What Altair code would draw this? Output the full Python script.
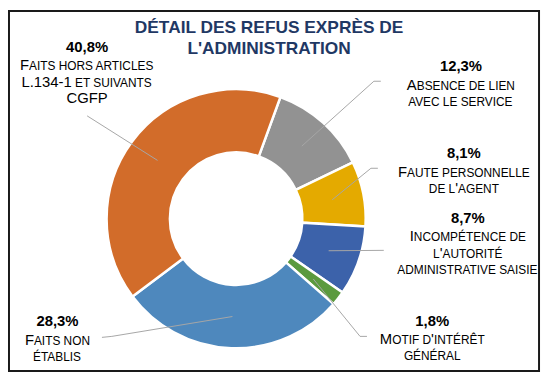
import math
import altair as alt
import pandas as pd

# ---------------- data ----------------
categories = [
    "Absence de lien avec le service",
    "Faute personnelle de l'agent",
    "Incompétence de l'autorité administrative saisie",
    "Motif d'intérêt général",
    "Faits non établis",
    "Faits hors articles L.134-1 et suivants CGFP",
]
values = [12.3, 8.1, 8.7, 1.8, 28.3, 40.8]
pct_labels = ["12,3%", "8,1%", "8,7%", "1,8%", "28,3%", "40,8%"]
label_lines = [
    ["Absence de lien", "avec le service"],
    ["Faute personnelle", "de l'agent"],
    ["Incompétence de", "l'autorité", "administrative saisie"],
    ["Motif d'intérêt", "général"],
    ["Faits non", "établis"],
    ["Faits hors articles", "L.134-1 et suivants", "CGFP"],
]
title_lines = ["DÉTAIL DES REFUS EXPRÈS DE", "L'ADMINISTRATION"]

# ---------------- styles / layout ----------------
colors = ["#929292", "#E4AA00", "#3C62AA", "#5B9A3E", "#4E88BD", "#D26C2A"]
TITLE_COLOR = "#1F3864"
LEAD_COLOR = "#A6A6A6"
FONT = "Liberation Sans"
OFF = 8  # page margin
CX, CY = 238.7 - OFF, 219 - OFF
R_OUT, R_IN, R_LEAD = 131, 67, 99
START_DEG = 20
BIG, SMALL, PCT_SIZE, TITLE_SIZE = 15, 12, 15, 17.5
LINE_GAP = 17
FIRST_GAP = 18
# label anchor (centre x, percentage-line centre y), page coords
label_pos = [(466, 65), (469, 153), (473, 218), (437, 322), (58, 323), (88, 45)]
# leader-line outer points (page coords), from label toward slice
leader_ends = [
    [(385, 80), (378, 80)],
    [(382, 168), (375, 168)],
    [(388, 251)],
    [(371, 338), (364, 338)],
    [(103, 339), (113, 338)],
    [(88, 115)],
]
title_pos = [(272, 26), (272, 47)]

# Arial / Liberation Sans advance widths (per 1000 em)
W = {
    "A": 667, "B": 667, "C": 722, "D": 722, "E": 667, "F": 611, "G": 778, "H": 722,
    "I": 278, "J": 500, "K": 667, "L": 556, "M": 833, "N": 722, "O": 778, "P": 667,
    "Q": 778, "R": 722, "S": 667, "T": 611, "U": 722, "V": 667, "W": 944, "X": 667,
    "Y": 667, "Z": 611, " ": 278, "'": 191, ".": 278, "-": 333, "É": 667, "È": 667,
    "Ê": 667, "À": 667,
}
for d in "0123456789":
    W[d] = 556

# ---------------- arcs ----------------
df = pd.DataFrame({"cat": categories, "value": values, "ord": list(range(len(values)))})
start = math.radians(START_DEG)
arc = alt.Chart(df).mark_arc(
    innerRadius=R_IN, outerRadius=R_OUT, stroke="white", strokeWidth=2.5
).encode(
    theta=alt.Theta("value:Q", stack=True, scale=alt.Scale(range=[start, start + 2 * math.pi])),
    color=alt.Color("cat:N", scale=alt.Scale(domain=categories, range=colors), legend=None),
    order=alt.Order("ord:Q"),
    x=alt.value(CX),
    y=alt.value(CY),
)

# ---------------- leader lines ----------------
total = sum(values)
rows = []
cum = 0.0
for i, v in enumerate(values):
    mid = start + 2 * math.pi * (cum + v / 2) / total
    cum += v
    pts = [(px - OFF, py - OFF) for px, py in leader_ends[i]]
    pts.append((CX + R_LEAD * math.sin(mid), CY - R_LEAD * math.cos(mid)))
    for k, (x, y) in enumerate(pts):
        rows.append({"cat": categories[i], "k": k, "x": x, "y": y})
lines = alt.Chart(pd.DataFrame(rows)).mark_line(color=LEAD_COLOR, strokeWidth=1).encode(
    x=alt.X("x:Q", scale=None, axis=None),
    y=alt.Y("y:Q", scale=None, axis=None),
    detail="cat:N",
    order="k:Q",
)

# ---------------- percentage labels ----------------
pct_df = pd.DataFrame({
    "x": [p[0] - OFF for p in label_pos],
    "y": [p[1] - OFF for p in label_pos],
    "t": pct_labels,
})
pct = alt.Chart(pct_df).mark_text(
    font=FONT, fontWeight="bold", fontSize=PCT_SIZE, align="center", baseline="middle", color="#000000"
).encode(x=alt.X("x:Q", scale=None, axis=None), y=alt.Y("y:Q", scale=None, axis=None), text="t:N")

# ---------------- small-caps category labels ----------------
def runs_for(text):
    out = []
    for ch in text:
        size = SMALL if (ch.islower() or ch == " ") else BIG
        c = ch.upper()
        if out and out[-1][1] == size:
            out[-1][0] += c
        else:
            out.append([c, size])
    return out

def width(t, s):
    return sum(W.get(c, 600) for c in t) * s / 1000

run_rows = []
for i, lines_i in enumerate(label_lines):
    cx, y0 = label_pos[i]
    for j, line in enumerate(lines_i):
        yc = y0 + FIRST_GAP + j * LINE_GAP
        runs = runs_for(line)
        widths = [width(t, s) for t, s in runs]
        x = cx - sum(widths) / 2
        for (t, s), w in zip(runs, widths):
            lead = len(t) - len(t.lstrip(" "))
            body = t.strip(" ")
            if body:
                run_rows.append({
                    "x": x + width(" " * lead, s) - OFF,
                    "y": yc + 0.358 * BIG - OFF,
                    "t": body,
                    "s": s,
                })
            x += w
cat_text = alt.Chart(pd.DataFrame(run_rows)).mark_text(
    font=FONT, align="left", baseline="alphabetic", color="#000000"
).encode(
    x=alt.X("x:Q", scale=None, axis=None),
    y=alt.Y("y:Q", scale=None, axis=None),
    text="t:N",
    size=alt.Size("s:Q", scale=None, legend=None),
)

# ---------------- title ----------------
title_df = pd.DataFrame({
    "x": [p[0] - OFF for p in title_pos],
    "y": [p[1] - OFF for p in title_pos],
    "t": title_lines,
})
title = alt.Chart(title_df).mark_text(
    font=FONT, fontWeight="bold", fontSize=TITLE_SIZE, align="center", baseline="middle", color=TITLE_COLOR
).encode(x=alt.X("x:Q", scale=None, axis=None), y=alt.Y("y:Q", scale=None, axis=None), text="t:N")

# ---------------- border ----------------
border = alt.Chart(pd.DataFrame({"a": [0]})).mark_rect(
    fillOpacity=0, stroke="#1a1a1a", strokeWidth=2
).encode(x=alt.value(1), x2=alt.value(545 - OFF), y=alt.value(1), y2=alt.value(373 - OFF))

chart = alt.layer(border, arc, lines, pct, cat_text, title).properties(
    width=540, height=368, autosize="none", padding=0, background="white"
).configure_view(stroke=None)

chart.save("out.html", embed_options={"renderer": "svg", "actions": False})
